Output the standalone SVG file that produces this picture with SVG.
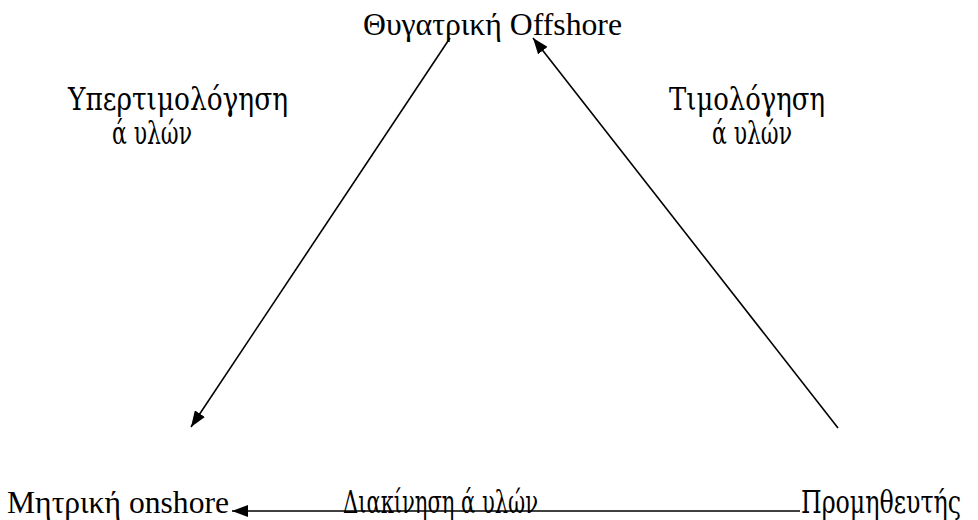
<svg xmlns="http://www.w3.org/2000/svg" width="978" height="520" viewBox="0 0 978 520">
<style>
.t{font-family:"Liberation Serif","Times New Roman",serif;font-size:32px;fill:#000}
.g{font-family:"DejaVu Serif","Noto Serif","FreeSerif","Tinos","Liberation Serif",serif;font-size:31px;fill:#000}
.c{stroke:#000;stroke-width:1.6;fill:none}
</style>
<defs>
<marker id="ah" viewBox="0 0 16 12" refX="16" refY="6" markerWidth="16" markerHeight="12" markerUnits="userSpaceOnUse" orient="auto">
<path d="M0,0 L16,6 L0,12 z" fill="#000"/>
</marker>
</defs>
<rect width="978" height="520" fill="#fff"/>
<g id="connectors">
<line class="c" x1="450" y1="38" x2="191" y2="427" marker-end="url(#ah)"/>
<line class="c" x1="838" y1="428" x2="533" y2="38" marker-end="url(#ah)"/>
<line class="c" x1="800" y1="511" x2="232" y2="511" marker-end="url(#ah)"/>
</g>
<g id="offshore">
<text class="t" x="363" y="35" textLength="259" lengthAdjust="spacingAndGlyphs">Θυγατρική Offshore</text>
</g>
<g id="onshore">
<text class="t" x="7" y="513" textLength="222" lengthAdjust="spacingAndGlyphs">Μητρική onshore</text>
</g>
<g id="supplier"><text class="g" x="801" y="513" textLength="160" lengthAdjust="spacingAndGlyphs">Προμηθευτής</text></g>
<g id="label-over">
<text class="g" x="68" y="110" textLength="220" lengthAdjust="spacingAndGlyphs">Υπερτιμολόγηση</text>
<text class="g" x="112" y="144" textLength="80" lengthAdjust="spacingAndGlyphs">ά υλών</text>
</g>
<g id="label-inv">
<text class="g" x="669" y="110" textLength="156" lengthAdjust="spacingAndGlyphs">Τιμολόγηση</text>
<text class="g" x="712" y="144" textLength="80" lengthAdjust="spacingAndGlyphs">ά υλών</text>
</g>
<g id="label-move"><text class="g" x="343" y="513" textLength="195" lengthAdjust="spacingAndGlyphs">Διακίνηση ά υλών</text></g>
</svg>
